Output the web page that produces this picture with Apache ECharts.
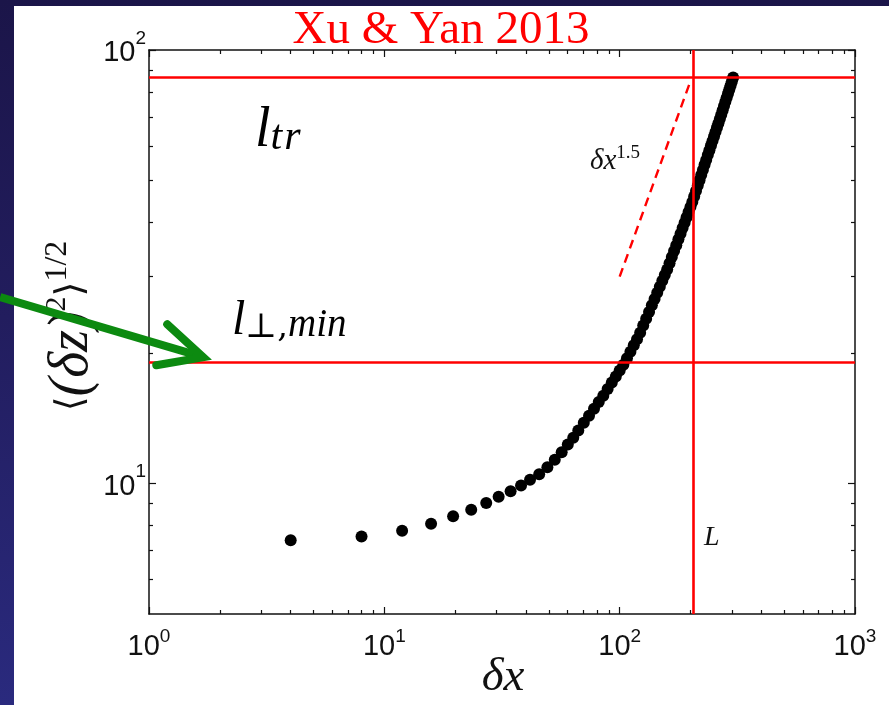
<!DOCTYPE html>
<html>
<head>
<meta charset="utf-8">
<script src="https://cdn.jsdelivr.net/npm/echarts@6/dist/echarts.min.js"></script>
<style>
  html, body { margin: 0; padding: 0; width: 889px; height: 705px; overflow: hidden; }
  body { background: linear-gradient(to bottom, #1b1549 0%, #221d5e 45%, #2a2a7e 100%); position: relative; }
  #panel { position: absolute; left: 14px; top: 6px; right: 0; bottom: 0; background: #ffffff; }
  #chart { position: absolute; left: 0; top: 0; width: 889px; height: 705px; }
</style>
</head>
<body>
<div id="panel"></div>
<div id="chart"></div>
<script>
// Structure-function samples: separation δx and rms displacement <(δz)^2>^(1/2)
const dxValues = [4, 8, 11.9, 15.8, 19.6, 23.4, 27.1, 30.6, 34.4, 38.1, 41.6, 45.5, 49.3, 53, 56.7, 60.2, 63.5, 66.7,
  70.4, 74.1, 77.8, 81.5, 85.2, 88.9, 92.6, 96.3, 100, 103.7, 107.4, 111.1, 114.8, 118.5,
  122.2, 125.9, 129.6, 133.3, 137, 140.7, 144.4, 148.1, 151.8, 155.5,
  159.2, 162.9, 166.6, 170.3, 174, 177.7, 181.4, 185.1, 188.8, 192.5, 196.2, 199.9,
  203.6, 207.3, 211, 214.7, 218.4, 222.1, 225.8,
  229.5, 233.2, 236.9, 240.6, 244.3, 248, 251.7, 255.4, 259.1, 262.8, 266.5,
  270.2, 273.9, 277.6, 281.3, 285, 288.7, 292.4, 296.1, 299.8, 303.5];
const dzValues = [7.40, 7.55, 7.78, 8.08, 8.40, 8.70, 9.02, 9.32, 9.60, 9.90, 10.2, 10.5, 10.9, 11.35, 11.8, 12.3, 12.75, 13.25,
  13.80, 14.34, 14.88, 15.41, 15.93, 16.51, 17.09, 17.66, 18.23, 18.80, 19.45, 20.14, 20.83, 21.52,
  22.28, 23.14, 24.0, 24.88, 25.76, 26.65, 27.54, 28.44, 29.34, 30.25,
  31.16, 32.22, 33.30, 34.38, 35.47, 36.58, 37.70, 38.83, 39.96, 41.11, 42.27, 43.44,
  44.62, 45.95, 47.30, 48.68, 50.06, 51.46, 52.87,
  54.35, 55.78, 57.23, 58.69, 60.18, 61.67, 63.17, 64.69, 66.23, 67.77, 69.33,
  70.92, 72.58, 74.25, 75.95, 77.65, 79.38, 81.11, 82.86, 84.63, 86.42];

// Reference scales
const lTr = 86.3;        // l_tr
const lPerpMin = 19.0;   // l_perp,min
const bigL = 205.6;      // L
const slopeX = [100, 200];
const slopeY = [30, 84.85]; // δx^1.5 guide

// Axis ticks
const xMajor = [1, 10, 100, 1000];
const xMinor = [2, 3, 4, 5, 6, 7, 8, 9, 20, 30, 40, 50, 60, 70, 80, 90, 200, 300, 400, 500, 600, 700, 800, 900];
const yMajor = [10, 100];
const yMinor = [6, 7, 8, 9, 20, 30, 40, 50, 60, 70, 80, 90];
const xRange = [1, 1000];
const yRange = [5, 100];

const points = dxValues.map((v, i) => [v, dzValues[i]]);

const chart = echarts.init(document.getElementById('chart'), null, { renderer: 'canvas' });

const axisCol = '#111';
const sans = 'Liberation Sans, Arial, sans-serif';
const powLabel = v => '{b|10}{s|' + Math.round(Math.log10(v)) + '}';
const richX = {
  b: { fontSize: 29, fontFamily: sans, color: '#111', lineHeight: 44, padding: [14, 0, 0, 0] },
  s: { fontSize: 19, fontFamily: sans, color: '#111', lineHeight: 19, verticalAlign: 'top', padding: [9, 0, 0, 0] }
};
const richY = {
  b: { fontSize: 29, fontFamily: sans, color: '#111', lineHeight: 44, padding: [6, 0, 0, 0] },
  s: { fontSize: 19, fontFamily: sans, color: '#111', lineHeight: 19, verticalAlign: 'top', padding: [1, 0, 0, 0] }
};

function axisDef(kind, pos, ticks, len, showLine, showLabel) {
  const range = kind === 'x' ? xRange : yRange;
  return {
    type: 'log', logBase: 10, min: range[0], max: range[1], position: pos, gridIndex: 0,
    axisLine: { show: showLine, onZero: false, lineStyle: { color: axisCol, width: 1.5 } },
    axisTick: { show: true, inside: true, length: len, customValues: ticks, lineStyle: { color: axisCol, width: 1.2 } },
    axisLabel: showLabel
      ? { show: true, customValues: ticks, margin: kind === 'x' ? 4 : 3, formatter: powLabel, rich: kind === 'x' ? richX : richY }
      : { show: false },
    splitLine: { show: false }, minorTick: { show: false }, minorSplitLine: { show: false }
  };
}

const option = {
  animation: false,
  backgroundColor: 'transparent',
  grid: { left: 149, top: 50, width: 706, height: 564, containLabel: false },
  xAxis: [
    axisDef('x', 'bottom', xMajor, 7, true, true),
    axisDef('x', 'bottom', xMinor, 4, false, false),
    axisDef('x', 'top', xMajor, 7, true, false),
    axisDef('x', 'top', xMinor, 4, false, false)
  ],
  yAxis: [
    axisDef('y', 'left', yMajor, 7, true, true),
    axisDef('y', 'left', yMinor, 4, false, false),
    axisDef('y', 'right', yMajor, 7, true, false),
    axisDef('y', 'right', yMinor, 4, false, false)
  ],
  series: [
    {
      type: 'line', xAxisIndex: 0, yAxisIndex: 0, silent: true, z: 3,
      data: slopeX.map((v, i) => [v, slopeY[i]]),
      showSymbol: false, symbol: 'none',
      lineStyle: { color: '#ff0000', width: 2.4, type: [9, 6] }
    },
    {
      type: 'scatter', xAxisIndex: 0, yAxisIndex: 0, z: 4,
      data: points, symbol: 'circle', symbolSize: 12,
      itemStyle: { color: '#000000', opacity: 1 },
      markLine: {
        silent: true, symbol: 'none', animation: false, z: 5,
        label: { show: false },
        lineStyle: { color: '#ff0000', width: 2.6, type: 'solid' },
        emphasis: { disabled: true },
        data: [{ yAxis: lTr }, { yAxis: lPerpMin }, { xAxis: bigL }]
      }
    }
  ]
};
chart.setOption(option);

// Annotations
const serif = 'Liberation Serif, Times New Roman, serif';
const graphics = [
  { type: 'text', x: 441, y: 31, z: 10,
    style: { text: 'Xu & Yan 2013', fill: '#ff0000', font: '47px ' + serif, align: 'center', verticalAlign: 'middle' } },
  { type: 'text', x: 255, y: 131, z: 10,
    style: { text: '{b|l}{s|t}{r|r}', align: 'left', verticalAlign: 'middle',
      rich: {
        b: { fontSize: 56, fontStyle: 'italic', fontFamily: serif, fill: '#000', lineHeight: 56 },
        s: { fontSize: 42, fontStyle: 'italic', fontFamily: serif, fill: '#000', lineHeight: 22, verticalAlign: 'bottom' },
        r: { fontSize: 42, fontStyle: 'italic', fontFamily: serif, fill: '#000', lineHeight: 22, verticalAlign: 'bottom', padding: [0, 0, 0, 2] }
      } } },
  { type: 'text', x: 232, y: 321, z: 10,
    style: { text: '{b|l}{u|⊥,}{s|min}', align: 'left', verticalAlign: 'middle',
      rich: {
        b: { fontSize: 48, fontStyle: 'italic', fontFamily: serif, fill: '#000', lineHeight: 48 },
        u: { fontSize: 34, fontFamily: 'DejaVu Serif, serif', fill: '#000', lineHeight: 24, verticalAlign: 'bottom' },
        s: { fontSize: 39, fontStyle: 'italic', fontFamily: serif, fill: '#000', lineHeight: 24, verticalAlign: 'bottom' }
      } } },
  { type: 'text', x: 590, y: 161, z: 10,
    style: { text: '{b|δx}{s|1.5}', align: 'left', verticalAlign: 'middle',
      rich: {
        b: { fontSize: 29, fontStyle: 'italic', fontFamily: serif, fill: '#111', lineHeight: 34 },
        s: { fontSize: 19, fontFamily: serif, fill: '#111', lineHeight: 19, verticalAlign: 'top' }
      } } },
  { type: 'text', x: 704, y: 538, z: 10,
    style: { text: 'L', fill: '#111', font: 'italic 28px ' + serif, align: 'left', verticalAlign: 'middle' } },
  { type: 'text', x: 503, y: 678, z: 10,
    style: { text: 'δx', fill: '#111', font: 'italic 47px ' + serif, align: 'center', verticalAlign: 'middle' } },
  { type: 'text', x: 72, y: 326, rotation: Math.PI / 2, z: 10,
    style: { text: '{p|⟨}{a|(δz)}{s|2}{p|⟩}{t|1/2}', align: 'center', verticalAlign: 'middle',
      rich: {
        p: { fontSize: 38, fontFamily: 'DejaVu Serif, serif', fill: '#111', lineHeight: 60 },
        a: { fontSize: 56, fontStyle: 'italic', fontFamily: serif, fill: '#111', lineHeight: 60 },
        s: { fontSize: 30, fontFamily: serif, fill: '#111', lineHeight: 30, verticalAlign: 'top' },
        t: { fontSize: 32, fontFamily: serif, fill: '#111', lineHeight: 30, verticalAlign: 'top' }
      } } }
];

// Green pointer arrow, anchored in data space
const arrowTail = chart.convertToPixel({ xAxisIndex: 0, yAxisIndex: 0 }, [0.233, 26.9]);
const arrowTip = chart.convertToPixel({ xAxisIndex: 0, yAxisIndex: 0 }, [1.70, 19.56]);
const green = '#0c8a10';
graphics.push({
  type: 'polyline', z: 20,
  shape: { points: [arrowTail, arrowTip] },
  style: { stroke: green, lineWidth: 8, lineCap: 'butt', fill: null }
});
graphics.push({
  type: 'polyline', z: 20,
  shape: { points: [[arrowTip[0] - 36, arrowTip[1] - 33], arrowTip, [arrowTip[0] - 47, arrowTip[1] + 8]] },
  style: { stroke: green, lineWidth: 8, lineCap: 'round', lineJoin: 'miter', fill: null }
});

chart.setOption({ graphic: { elements: graphics } });
</script>
</body>
</html>
